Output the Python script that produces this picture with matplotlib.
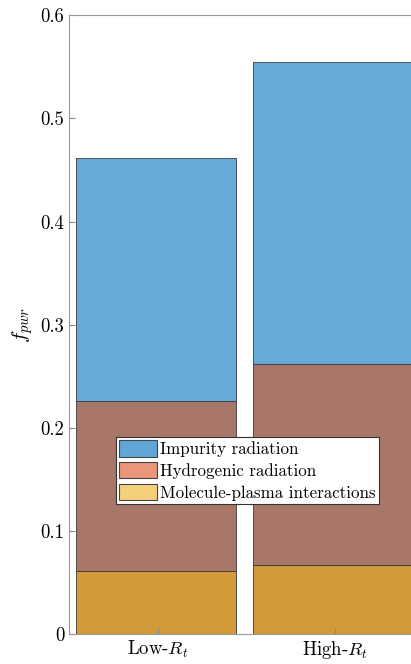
import matplotlib
matplotlib.use('Agg')
import matplotlib.pyplot as plt
import numpy as np
from matplotlib.patches import Patch

plt.rcParams['font.family'] = 'serif'
plt.rcParams['font.serif'] = ['cmr10']
plt.rcParams['mathtext.fontset'] = 'cm'
plt.rcParams['axes.formatter.use_mathtext'] = True

categories = [r'Low-$R_t$', r'High-$R_t$']
molecule = [0.061, 0.067]
hydrogenic = [0.165, 0.195]
impurity = [0.236, 0.293]

labels = ['Impurity radiation', 'Hydrogenic radiation', 'Molecule-plasma interactions']
bar_colors = ['#66aad7', '#a97767', '#d29a38']
legend_colors = ['#61a6d8', '#e9967a', '#f4d07a']

fig = plt.figure(figsize=(4.11, 6.64), dpi=100)
ax = fig.add_axes([0.168, 0.045, 0.84, 0.932])
x = np.arange(1, len(categories) + 1)
w = 0.903
ax.bar(x - 0.01, molecule, w, color=bar_colors[2], edgecolor='#3a3a3a', linewidth=0.6)
ax.bar(x - 0.01, hydrogenic, w, bottom=molecule, color=bar_colors[1], edgecolor='#3a3a3a', linewidth=0.6)
bot2 = np.array(molecule) + np.array(hydrogenic)
ax.bar(x - 0.01, impurity, w, bottom=bot2, color=bar_colors[0], edgecolor='#3a3a3a', linewidth=0.6)

ax.set_xlim(0.497, 2.451)
ax.set_ylim(0, 0.6)
ax.set_xticks(x)
ax.set_xticklabels(categories, fontsize=13.5)
ax.set_yticks(np.arange(0, 0.61, 0.1))
ax.set_yticklabels(['0', '0.1', '0.2', '0.3', '0.4', '0.5', '0.6'], fontsize=13.5)
ax.tick_params(direction='in', length=4, color='#888888')
ax.set_ylabel(r'$f_{pwr}$', fontsize=15)
for s in ['left', 'top', 'bottom']:
    ax.spines[s].set_color('#999999')
ax.spines['right'].set_visible(False)

handles = [Patch(facecolor=c, edgecolor='#444444', linewidth=0.8) for c in legend_colors]
leg = ax.legend(handles, labels, loc='upper left', bbox_to_anchor=(116 / 411, 1 - 437 / 664),
                bbox_transform=fig.transFigure, fontsize=12.2, fancybox=False, framealpha=1,
                edgecolor='#333333', borderpad=0.2, labelspacing=0.28, handlelength=2.2,
                handleheight=1.1, handletextpad=0.2, borderaxespad=0)
leg.get_frame().set_linewidth(0.8)

fig.savefig('out.png', dpi=100)
